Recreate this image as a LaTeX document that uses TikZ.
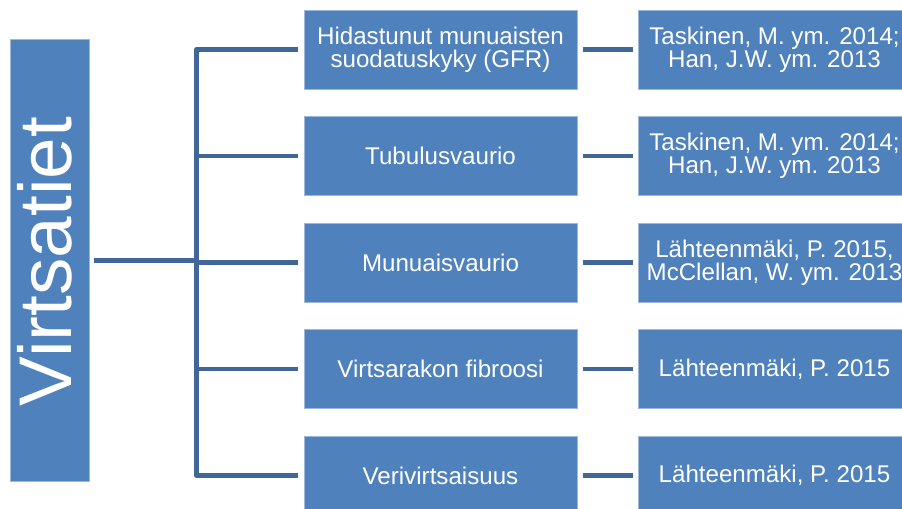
\documentclass[tikz,border=0pt]{standalone}
\usepackage{fontspec}
\setmainfont{Liberation Sans}
\definecolor{boxblue}{HTML}{4F81BD}
\definecolor{boxedge}{HTML}{9DB8DA}
\definecolor{linkblue}{HTML}{41679A}
\begin{document}
\begin{tikzpicture}[x=0.75pt,y=-0.75pt,
  box/.style={draw=boxedge, line width=0.6pt, fill=boxblue, text=white,
    minimum width=204.75pt, minimum height=59.25pt, inner sep=0pt,
    align=center, font=\fontsize{18.1}{17.6}\selectfont},
  conn/.style={draw=linkblue, line width=3.6pt}]
\useasboundingbox (0,0) rectangle (902,508);
\clip (0,0) rectangle (902,508);
% left box
\node[draw=boxedge, line width=0.6pt, fill=boxblue, minimum width=59.25pt,
  minimum height=331pt, inner sep=0pt] (v) at (49.5,260.25) {};
\node[rotate=90, text=white, inner sep=0pt, font=\fontsize{56}{56}\selectfont]
  (vt) at (45,261.5) {Virtsatiet};
% middle boxes
\node[box] (m1) at (440.5,49.5) {Hidastunut munuaisten\\suodatuskyky (GFR)};
\node[box] (m2) at (440.5,156) {Tubulusvaurio};
\node[box] (m3) at (440.5,262.5) {Munuaisvaurio};
\node[box] (m4) at (440.5,369) {Virtsarakon fibroosi};
\node[box] (m5) at (440.5,475.5) {Verivirtsaisuus};
% right boxes
\node[box] (r1) at (774.5,49.5) {Taskinen, M. ym. 2014;\\Han, J.W. ym. 2013};
\node[box] (r2) at (774.5,156) {Taskinen, M. ym. 2014;\\Han, J.W. ym. 2013};
\node[box] (r3) at (774.5,262.5) {Lähteenmäki, P. 2015,\\McClellan, W. ym. 2013};
\node[box] (r4) at (774.5,369) {Lähteenmäki, P. 2015};
\node[box] (r5) at (774.5,475.5) {Lähteenmäki, P. 2015};
% trunk
\coordinate (tt) at (196.5,49.5);
\coordinate (tb) at (196.5,475.5);
\draw[conn, line join=round] ([xshift=-4.5pt]m1.west) -- (tt) -- (tb) -- ([xshift=-4.5pt]m5.west);
\draw[conn] (tt |- m2.west) -- ([xshift=-4.5pt]m2.west);
\draw[conn] (tt |- m3.west) -- ([xshift=-4.5pt]m3.west);
\draw[conn] (tt |- m4.west) -- ([xshift=-4.5pt]m4.west);
\draw[conn] ([xshift=3.75pt]v.east) -- (tt |- v.east);
% right connectors
\foreach \i in {1,...,5}{
  \draw[conn] ([xshift=4.5pt]m\i.east) -- ([xshift=-3.75pt]r\i.west);
}
\end{tikzpicture}
\end{document}
